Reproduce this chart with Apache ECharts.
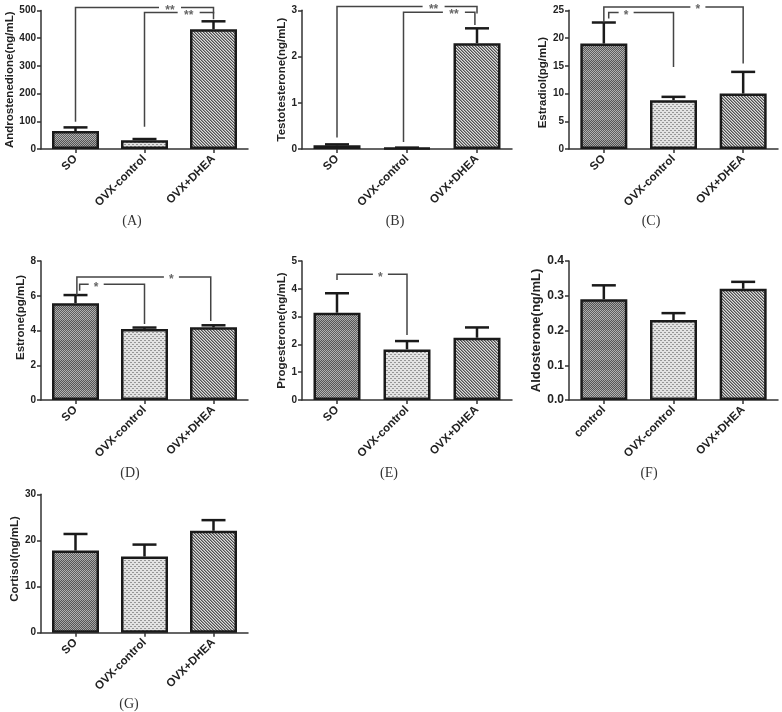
<!DOCTYPE html>
<html><head><meta charset="utf-8">
<script src="https://cdn.jsdelivr.net/npm/echarts@6/dist/echarts.min.js"></script>
<style>html,body{margin:0;padding:0;background:#fff}#c{width:782px;height:712px}</style>
</head><body><div id="c"></div>
<script>
// ---------- data ----------
const groups = ['SO', 'OVX-control', 'OVX+DHEA'];
const groupsF = ['control', 'OVX-control', 'OVX+DHEA'];

const androMean = [65, 32, 432];
const androSem = [13, 4, 29];
const testoMean = [0.08, 0.02, 2.29];
const testoSem = [0.02, 0.01, 0.32];
const estradiolMean = [19.0, 8.8, 10.0];
const estradiolSem = [3.8, 0.6, 3.9];
const estroneMean = [5.57, 4.09, 4.18];
const estroneSem = [0.47, 0.08, 0.12];
const progMean = [3.14, 1.82, 2.24];
const progSem = [0.70, 0.30, 0.37];
const aldoMean = [0.29, 0.23, 0.32];
const aldoSem = [0.04, 0.02, 0.02];
const cortMean = [17.8, 16.5, 22.1];
const cortSem = [3.6, 2.6, 2.3];

// significance brackets: [fromCat, toCat, topValue, leftEndValue, rightEndValue, starCat, text]
const androSig = [[0, 2, 511, 98, 489, 1.37, '**'], [1, 2, 493, 80, 468, 1.64, '**']];
const testoSig = [[0, 2, 3.08, 0.25, 2.93, 1.38, '**'], [0.95, 1.97, 2.96, 0.15, 2.68, 1.67, '**']];
const estradiolSig = [[0.07, 1, 24.6, 23.5, 14.8, 0.32, '*'], [0, 2, 25.6, 22.8, 15.4, 1.35, '*']];
const estroneSig = [[0.06, 1, 6.66, 6.29, 4.37, 0.3, '*'], [0.02, 1.96, 7.08, 6.04, 4.55, 1.39, '*']];
const progSig = [[0, 1, 4.52, 4.32, 2.34, 0.62, '*']];

const yNames = ['Androstenedione(ng/mL)', 'Testotesterone(ng/mL)', 'Estradiol(pg/mL)', 'Estrone(pg/mL)',
  'Progesterone(ng/mL)', 'Aldosterone(ng/mL)', 'Cortisol(ng/mL)'];
const yMax = [500, 3, 25, 8, 5, 0.4, 30];
const yStep = [100, 1, 5, 2, 1, 0.1, 10];
const panelLabels = ['(A)', '(B)', '(C)', '(D)', '(E)', '(F)', '(G)'];

const panels = [
  { cats: groups, mean: androMean, sem: androSem, sig: androSig },
  { cats: groups, mean: testoMean, sem: testoSem, sig: testoSig },
  { cats: groups, mean: estradiolMean, sem: estradiolSem, sig: estradiolSig },
  { cats: groups, mean: estroneMean, sem: estroneSem, sig: estroneSig },
  { cats: groups, mean: progMean, sem: progSem, sig: progSig },
  { cats: groupsF, mean: aldoMean, sem: aldoSem, sig: [] },
  { cats: groups, mean: cortMean, sem: cortSem, sig: [] }
];

// ---------- layout / style ----------
const layout = [
  { grid: { left: 41, top: 10.5, width: 207, height: 138.5 }, gap: 23, pad: [0, 0, 0, 0], ns: 11.5, ls: 10, sub: [132, 221] },
  { grid: { left: 302, top: 10.3, width: 210, height: 138.7 }, gap: 10, pad: [0, 0, 0, 0], ns: 11.5, ls: 10, sub: [395, 221] },
  { grid: { left: 569, top: 10.3, width: 209, height: 138.7 }, gap: 13, pad: [0, 6, 0, 0], ns: 11.5, ls: 10, sub: [651, 221] },
  { grid: { left: 41, top: 261, width: 207, height: 139 }, gap: 9, pad: [0, 0, 0, 26], ns: 11.5, ls: 10, sub: [130, 473] },
  { grid: { left: 302, top: 261, width: 210, height: 139 }, gap: 7, pad: [0, 0, 0, 0], ns: 11.5, ls: 10, sub: [389, 473] },
  { grid: { left: 569, top: 261, width: 209, height: 139 }, gap: 22, pad: [0, 0, 0, 0], ns: 13, ls: 12, sub: [649, 473] },
  { grid: { left: 41, top: 494.3, width: 207, height: 138.4 }, gap: 20, pad: [0, 0, 0, 9], ns: 11.5, ls: 10, sub: [129, 704] }
];

const FONT = '"Liberation Sans", Arial, sans-serif';
const INK = '#1a1a1a';

function makePattern(kind) {
  const c = document.createElement('canvas');
  let w = 4, h = 4;
  if (kind === 'so') { w = 2; h = 20; }
  if (kind === 'dhea') { w = 3; h = 3; }
  c.width = w; c.height = h;
  const ctx = c.getContext('2d');
  const img = ctx.createImageData(w, h);
  for (let y = 0; y < h; y++) for (let x = 0; x < w; x++) {
    let v;
    if (kind === 'so') {
      const band = y < 10; const chk = (x + y) % 2;
      v = chk ? (band ? 84 : 94) : (band ? 165 : 178);
    } else if (kind === 'ovx') {
      v = ((y % 4 === 0 && (x === 0 || x === 1)) || (y % 4 === 2 && (x === 2 || x === 3))) ? 150 : 226;
    } else {
      const d = ((x - y) % 3 + 3) % 3;
      v = d === 0 ? 80 : (d === 1 ? 150 : 222);
    }
    const k = (y * w + x) * 4;
    img.data[k] = img.data[k + 1] = img.data[k + 2] = v; img.data[k + 3] = 255;
  }
  ctx.putImageData(img, 0, 0);
  return { image: c, repeat: 'repeat' };
}
const fills = [makePattern('so'), makePattern('ovx'), makePattern('dhea')];

const grids = [], xAxes = [], yAxes = [], series = [], graphics = [];

panels.forEach((p, i) => {
  const L = layout[i];
  grids.push(Object.assign({ containLabel: false, outerBoundsMode: 'none' }, L.grid));
  xAxes.push({
    type: 'category', gridIndex: i, data: p.cats, boundaryGap: true,
    axisLine: { show: true, lineStyle: { color: '#333', width: 1.5 } },
    axisTick: { show: true, alignWithLabel: true, length: 4, lineStyle: { color: '#333', width: 1.5 } },
    axisLabel: { interval: 0, rotate: 45, margin: 8, color: '#222', fontFamily: FONT, fontWeight: 'bold', fontSize: 11.5 },
    splitLine: { show: false }
  });
  yAxes.push({
    type: 'value', gridIndex: i, min: 0, max: yMax[i], interval: yStep[i],
    name: yNames[i], nameLocation: 'middle', nameGap: L.gap,
    nameTextStyle: { color: '#222', fontFamily: FONT, fontWeight: 'bold', fontSize: L.ns, padding: L.pad },
    axisLine: { show: true, lineStyle: { color: '#333', width: 1.5 } },
    axisTick: { show: true, length: 4, lineStyle: { color: '#333', width: 1.5 } },
    axisLabel: {
      margin: 5, color: '#222', fontFamily: FONT, fontWeight: 'bold', fontSize: L.ls,
      formatter: i === 5 ? (v => v.toFixed(1)) : (v => String(v))
    },
    splitLine: { show: false }
  });
  series.push({
    type: 'bar', xAxisIndex: i, yAxisIndex: i, barWidth: 47, silent: true, z: 2,
    data: p.mean.map((v, k) => ({ value: v, itemStyle: { color: fills[k], borderColor: INK, borderWidth: 2.5 } }))
  });
  series.push({
    type: 'custom', xAxisIndex: i, yAxisIndex: i, silent: true, z: 3, clip: false,
    encode: { x: 0, y: 2 },
    data: p.mean.map((v, k) => [k, v, v + p.sem[k]]),
    renderItem: (params, api) => {
      const a = api.coord([api.value(0), api.value(1)]);
      const b = api.coord([api.value(0), api.value(2)]);
      const hw = 12;
      return { type: 'group', children: [
        { type: 'line', shape: { x1: a[0], y1: a[1], x2: b[0], y2: b[1] }, style: { stroke: INK, lineWidth: 2.5 } },
        { type: 'line', shape: { x1: b[0] - hw, y1: b[1], x2: b[0] + hw, y2: b[1] }, style: { stroke: INK, lineWidth: 2.5 } }
      ] };
    }
  });
  if (p.sig.length) {
    const sig = p.sig;
    series.push({
      type: 'custom', xAxisIndex: i, yAxisIndex: i, silent: true, z: 4, clip: false,
      encode: { x: 0, y: 1 },
      data: sig.map(s => [Math.round(s[0]), s[2]]),
      renderItem: (params, api) => {
        const s = sig[params.dataIndex];
        const X = (c, v) => { const a = api.coord([0, v]), b = api.coord([1, v]); return [a[0] + c * (b[0] - a[0]), a[1]]; };
        const Lb = X(s[0], s[3]), Lt = X(s[0], s[2]), Rb = X(s[1], s[4]), Rt = X(s[1], s[2]), S = X(s[5], s[2]);
        const gw = s[6].length * 3.5 + 4;
        const st = { stroke: '#444', lineWidth: 1.5, fill: 'none' };
        return { type: 'group', children: [
          { type: 'polyline', shape: { points: [Lb, Lt, [S[0] - gw, Lt[1]]] }, style: st },
          { type: 'polyline', shape: { points: [[S[0] + gw, Rt[1]], Rt, Rb] }, style: st },
          { type: 'text', x: S[0], y: S[1] + 3, style: { text: s[6], fill: '#666', fontFamily: FONT, fontWeight: 'bold', fontSize: 12, align: 'center', verticalAlign: 'middle' } }
        ] };
      }
    });
  }
  graphics.push({
    type: 'text', x: L.sub[0], y: L.sub[1], silent: true,
    style: { text: panelLabels[i], fill: '#333', fontFamily: '"Liberation Serif", "Times New Roman", serif', fontSize: 14, align: 'center', verticalAlign: 'middle' }
  });
});

const chart = echarts.init(document.getElementById('c'), null, { renderer: 'canvas' });
chart.setOption({
  animation: false,
  backgroundColor: '#fff',
  grid: grids, xAxis: xAxes, yAxis: yAxes, series: series, graphic: graphics
});
</script>
</body></html>
